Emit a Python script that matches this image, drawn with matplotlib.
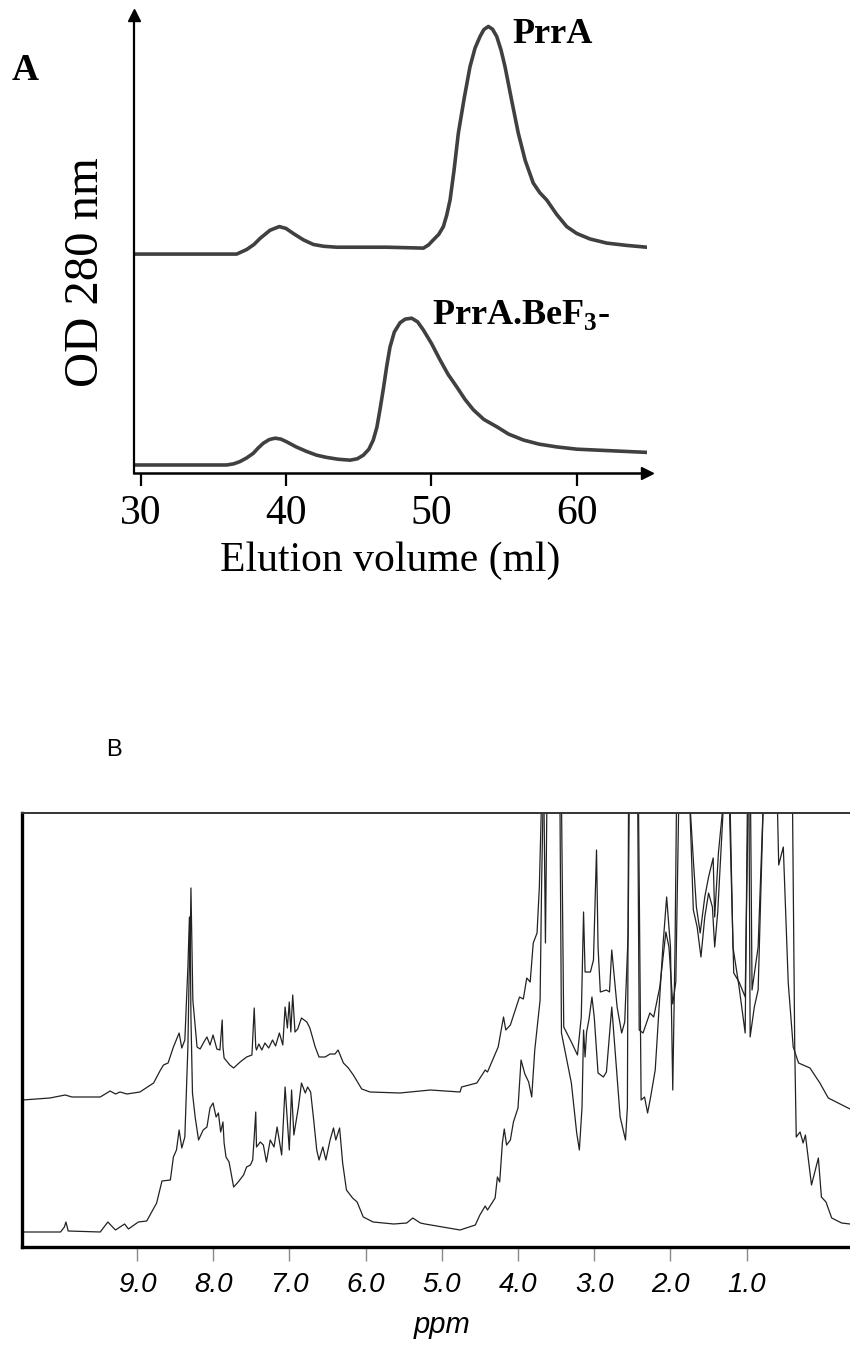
import matplotlib
matplotlib.use("Agg")
import matplotlib.pyplot as plt

# ---------- Panel A: elution profiles (OD 280 nm, arbitrary units) ----------
prra_ml = [29.55, 36.61, 37.30, 37.80, 38.21, 38.90, 39.54, 40.00, 40.50, 41.20,
           41.88, 42.60, 43.49, 46.92, 49.45, 49.80, 50.13, 50.50, 50.82, 51.05,
           51.28, 51.55, 51.85, 52.25, 52.65, 53.00, 53.34, 53.60, 53.91, 54.20,
           54.49, 54.78, 55.06, 55.50, 55.97, 56.45, 57.00, 57.45, 57.93, 58.60,
           59.30, 59.99, 60.90, 62.05, 63.40, 64.80]
prra_od = [47.8, 47.8, 48.8, 49.9, 51.2, 53.0, 53.8, 53.4, 52.3, 50.9,
           49.9, 49.5, 49.3, 49.3, 49.1, 49.8, 50.9, 52.1, 53.8, 56.3,
           59.6, 66.0, 74.2, 81.8, 88.7, 92.8, 95.3, 96.8, 97.5, 96.9,
           95.3, 92.4, 88.7, 81.6, 74.2, 68.2, 63.3, 61.2, 59.6, 56.5,
           53.8, 52.3, 51.1, 50.2, 49.7, 49.3]

bef3_ml = [29.55, 35.92, 36.40, 36.84, 37.30, 37.75, 38.10, 38.44, 38.85, 39.25,
           39.65, 40.05, 40.70, 41.42, 42.10, 42.80, 43.60, 44.40, 44.90, 45.32,
           45.70, 46.00, 46.25, 46.46, 46.70, 46.92, 47.15, 47.45, 47.84, 48.20,
           48.64, 49.05, 49.45, 50.00, 50.59, 51.15, 51.74, 52.30, 52.88, 53.60,
           54.49, 55.30, 56.32, 57.40, 58.61, 60.00, 62.05, 64.80]
bef3_od = [1.75, 1.75, 2.0, 2.5, 3.3, 4.3, 5.5, 6.5, 7.3, 7.6,
           7.4, 6.8, 5.7, 4.7, 3.9, 3.4, 3.0, 2.8, 3.1, 3.9,
           5.2, 7.2, 10.0, 13.8, 18.5, 23.2, 27.5, 30.8, 32.8, 33.6,
           33.8, 33.0, 31.2, 28.3, 24.7, 21.5, 18.8, 16.1, 13.8, 11.7,
           10.1, 8.5, 7.2, 6.3, 5.7, 5.2, 4.9, 4.5]

elution_ticks = [30, 40, 50, 60]

# ---------- Panel B: 1H NMR spectra (intensity, arbitrary units) ----------
top_ppm = [10.50, 10.14, 9.94, 9.85, 9.48, 9.35, 9.28, 9.22, 9.13, 8.96,
           8.78, 8.69, 8.65, 8.59, 8.52, 8.445, 8.41, 8.37, 8.33, 8.31,
           8.30, 8.29, 8.275, 8.265, 8.21, 8.17, 8.12, 8.08, 8.04, 8.00,
           7.95, 7.91, 7.88, 7.87, 7.855, 7.78, 7.73, 7.645, 7.56, 7.49,
           7.46, 7.44, 7.43, 7.40, 7.36, 7.32, 7.27, 7.22, 7.18, 7.13,
           7.085, 7.055, 7.025, 7.00, 6.98, 6.955, 6.925, 6.89, 6.84, 6.77,
           6.73, 6.66, 6.61, 6.53, 6.465, 6.40, 6.36, 6.29, 6.225, 6.16,
           6.05, 5.94, 5.55, 5.15, 4.76, 4.74, 4.54, 4.43, 4.40, 4.26,
           4.19, 4.16, 4.10, 3.98, 3.93, 3.885, 3.84, 3.80, 3.75, 3.72,
           3.69, 3.66, 3.64, 3.62, 3.50, 3.43, 3.40, 3.30, 3.22, 3.17,
           3.14, 3.12, 3.05, 3.01, 2.97, 2.95, 2.92, 2.84, 2.80, 2.77,
           2.70, 2.64, 2.60, 2.555, 2.54, 2.43, 2.41, 2.36, 2.27, 2.22,
           2.14, 2.06, 2.02, 1.97, 1.93, 1.89, 1.75, 1.70, 1.66, 1.61,
           1.55, 1.50, 1.44, 1.42, 1.37, 1.30, 1.23, 1.17, 1.10, 1.02,
           0.98, 0.95, 0.93, 0.85, 0.78, 0.60, 0.58, 0.52, 0.455, 0.39,
           0.32, 0.17, 0.04, -0.07, -0.20, -0.355]
top_int = [147, 149, 152, 150, 150, 156, 153, 155, 153, 155,
           164, 177, 182, 184, 200, 214, 199, 207, 280, 330,
           300, 359, 290, 247, 200, 198, 205, 210, 202, 212,
           198, 197, 227, 200, 189, 182, 179, 185, 190, 192,
           239, 200, 197, 203, 197, 204, 199, 207, 201, 214,
           202, 240, 219, 245, 215, 252, 215, 218, 229, 225,
           219, 200, 190, 190, 193, 193, 197, 184, 179, 172,
           158, 155, 154, 157, 155, 160, 164, 177, 175, 200,
           230, 217, 222, 250, 248, 269, 265, 304, 314, 360,
           450, 450, 304, 450, 450, 450, 220, 205, 192, 230,
           335, 275, 275, 287, 397, 300, 255, 257, 255, 297,
           240, 214, 225, 314, 450, 450, 217, 214, 234, 230,
           260, 315, 300, 243, 265, 450, 450, 387, 340, 314,
           350, 370, 389, 330, 395, 450, 450, 274, 265, 250,
           450, 450, 257, 300, 450, 450, 382, 400, 264, 200,
           184, 179, 164, 149, 144, 138]

bot_ppm = [10.50, 10.00, 9.95, 9.93, 9.90, 9.48, 9.38, 9.28, 9.16, 9.11,
           8.98, 8.87, 8.74, 8.67, 8.56, 8.52, 8.48, 8.445, 8.41, 8.37,
           8.33, 8.31, 8.30, 8.29, 8.27, 8.235, 8.19, 8.13, 8.08, 8.04,
           8.00, 7.96, 7.93, 7.90, 7.87, 7.855, 7.83, 7.79, 7.73, 7.67,
           7.60, 7.56, 7.51, 7.48, 7.46, 7.44, 7.43, 7.38, 7.34, 7.30,
           7.25, 7.20, 7.16, 7.10, 7.055, 7.02, 7.00, 6.97, 6.94, 6.88,
           6.84, 6.79, 6.76, 6.72, 6.68, 6.64, 6.61, 6.56, 6.52, 6.465,
           6.42, 6.39, 6.34, 6.30, 6.25, 6.17, 6.11, 6.03, 5.90, 5.63,
           5.46, 5.38, 5.28, 5.22, 4.76, 4.56, 4.50, 4.43, 4.40, 4.30,
           4.27, 4.24, 4.205, 4.18, 4.15, 4.10, 4.06, 4.00, 3.96, 3.91,
           3.86, 3.82, 3.78, 3.71, 3.69, 3.67, 3.45, 3.43, 3.30, 3.23,
           3.195, 3.16, 3.14, 3.12, 3.10, 3.07, 3.03, 3.00, 2.95, 2.88,
           2.84, 2.77, 2.72, 2.66, 2.59, 2.565, 2.55, 2.42, 2.385, 2.34,
           2.30, 2.26, 2.20, 2.10, 2.05, 2.00, 1.97, 1.94, 1.92, 1.75,
           1.70, 1.65, 1.60, 1.55, 1.50, 1.45, 1.42, 1.38, 1.30, 1.22,
           1.18, 1.10, 1.02, 0.99, 0.97, 0.955, 0.90, 0.85, 0.78, 0.45,
           0.40, 0.37, 0.35, 0.30, 0.26, 0.23, 0.15, 0.06, 0.02, -0.04,
           -0.115, -0.245, -0.355]
bot_int = [15, 15, 20, 25, 16, 15, 25, 17, 23, 18,
           25, 26, 44, 66, 67, 90, 97, 117, 99, 110,
           200, 290, 317, 230, 154, 130, 107, 117, 120, 139,
           144, 130, 134, 115, 125, 104, 90, 85, 60, 65,
           72, 80, 82, 87, 110, 135, 100, 105, 102, 85,
           107, 100, 120, 92, 160, 120, 97, 157, 112, 140,
           164, 154, 160, 155, 127, 97, 87, 100, 87, 107,
           119, 107, 119, 84, 57, 49, 45, 30, 25, 23,
           24, 29, 24, 23, 17, 22, 32, 41, 37, 49,
           70, 65, 104, 118, 102, 107, 125, 139, 187, 173,
           165, 150, 197, 247, 364, 450, 450, 214, 164, 114,
           97, 140, 217, 190, 215, 227, 250, 230, 174, 170,
           175, 240, 190, 130, 107, 140, 450, 450, 147, 150,
           134, 150, 177, 300, 350, 300, 157, 300, 450, 450,
           337, 320, 290, 330, 354, 340, 300, 335, 450, 450,
           300, 260, 214, 450, 450, 210, 240, 257, 450, 450,
           450, 200, 110, 115, 104, 112, 62, 89, 50, 45,
           29, 24, 23]

ppm_ticks = [9, 8, 7, 6, 5, 4, 3, 2, 1]

W, H = 850, 1347
fig = plt.figure(figsize=(W / 100, H / 100), dpi=100)


def box(x0, y0, x1, y1):
    # pixel box (top-left origin) -> figure fraction
    return [x0 / W, 1 - y1 / H, (x1 - x0) / W, (y1 - y0) / H]


serif = "Liberation Serif"
sans = "Liberation Sans"

# ---------- Panel A ----------
axA = fig.add_axes(box(134, 15, 647, 473))
axA.plot(prra_ml, prra_od, color="#404040", lw=2.6, solid_joinstyle="round")
axA.plot(bef3_ml, bef3_od, color="#404040", lw=2.6, solid_joinstyle="round")
axA.set_xlim(29.55, 64.82)
axA.set_ylim(0, 100)
for s in ["top", "right"]:
    axA.spines[s].set_visible(False)
axA.spines["left"].set_linewidth(1.6)
axA.spines["bottom"].set_linewidth(1.8)
axA.set_yticks([])
axA.set_xticks(elution_ticks)
axA.tick_params(axis="x", direction="out", length=9.5, width=1.6, pad=6,
                labelsize=30)
for lab in axA.get_xticklabels():
    lab.set_family(serif)
axA.plot(1, 0, ">", color="black", ms=9, transform=axA.transAxes, clip_on=False)
axA.plot(0, 1, "^", color="black", ms=9, transform=axA.transAxes, clip_on=False)

fig.text(390 / W, 1 - 571 / H, "Elution volume (ml)", family=serif, fontsize=30,
         ha="center", va="baseline")
fig.text(86 / W, 1 - 272 / H, "OD 280 nm", family=serif, fontsize=35,
         rotation=90, ha="center", va="center")
fig.text(12 / W, 1 - 80 / H, "A", family=serif, fontsize=27, fontweight="bold",
         ha="left", va="baseline")
fig.text(512 / W, 1 - 43 / H, "PrrA", family=serif, fontsize=26,
         fontweight="bold", ha="left", va="baseline")
plt.rcParams["mathtext.fontset"] = "custom"
plt.rcParams["mathtext.bf"] = "Liberation Serif:bold"
plt.rcParams["mathtext.rm"] = "Liberation Serif:bold"
fig.text(432 / W, 1 - 324 / H, r"PrrA.BeF$_\mathrm{3}$-", family=serif,
         fontsize=26, fontweight="bold", ha="left", va="baseline")

# ---------- Panel B ----------
axB = fig.add_axes(box(21.7, 813, 850, 1247))
axB.plot(top_ppm, top_int, color="#222222", lw=0.9)
axB.plot(bot_ppm, bot_int, color="#222222", lw=0.9)
axB.set_xlim(10.51, -0.355)
axB.set_ylim(0, 434)
axB.spines["right"].set_visible(False)
axB.spines["left"].set_linewidth(2.4)
axB.spines["bottom"].set_linewidth(2.4)
axB.spines["top"].set_linewidth(1.4)
axB.spines["top"].set_color("#333333")
axB.set_yticks([])
axB.set_xticks(ppm_ticks)
axB.set_xticklabels(["%.1f" % t for t in ppm_ticks])
axB.tick_params(axis="x", direction="out", length=10, width=1.0,
                color="#888888", pad=8, labelsize=20)
for lab in axB.get_xticklabels():
    lab.set_family(sans)
    lab.set_style("italic")

fig.text(442 / W, 1 - 1325 / H, "ppm", family=sans, style="italic",
         fontsize=21, ha="center", va="center")
fig.text(114 / W, 1 - 750 / H, "B", family=sans, fontsize=17,
         ha="center", va="center")

fig.savefig("out.png", dpi=100)
